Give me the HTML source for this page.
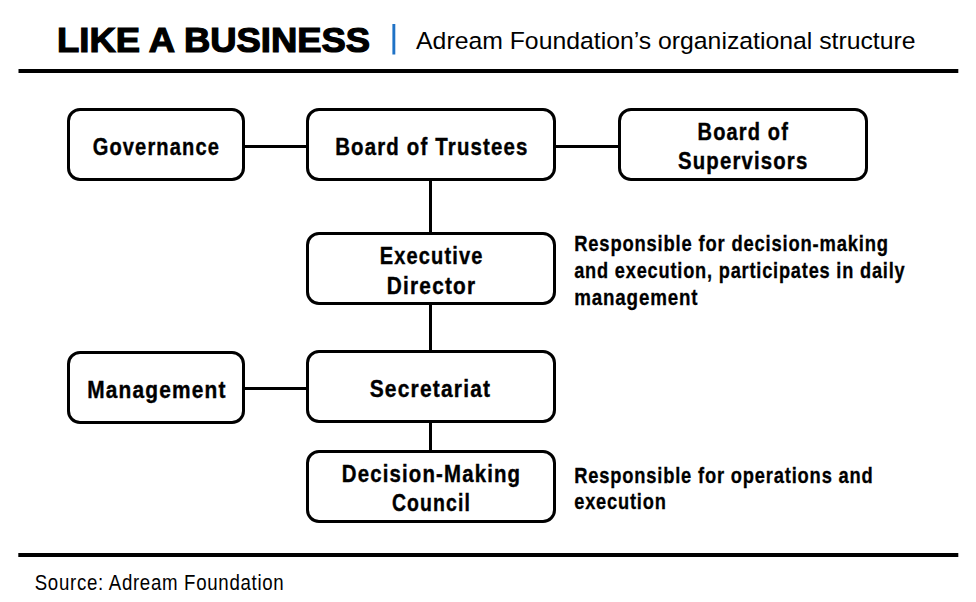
<!DOCTYPE html>
<html><head><meta charset="utf-8">
<style>
html,body{margin:0;padding:0;background:#fff;}
body{width:976px;height:602px;overflow:hidden;}
svg{display:block;}
text{font-family:"Liberation Sans", sans-serif;fill:#000;}
</style></head><body>
<svg width="976" height="602" viewBox="0 0 976 602">
<rect width="976" height="602" fill="#fff"/>
<rect x="18.5" y="69" width="939.8" height="4" fill="#000"/>
<rect x="18.3" y="553" width="940" height="4" fill="#000"/>
<rect x="392.4" y="24" width="2.9" height="30.5" fill="#1f72c6"/>
<rect x="244" y="145" width="63" height="3" fill="#000"/>
<rect x="555" y="145" width="64" height="3" fill="#000"/>
<rect x="429" y="180" width="3" height="53" fill="#000"/>
<rect x="429" y="304" width="3" height="47" fill="#000"/>
<rect x="429" y="422" width="3" height="29" fill="#000"/>
<rect x="244" y="387" width="63" height="3" fill="#000"/>
<rect x="68.5" y="109.5" width="175" height="70" rx="11.5" ry="11.5" fill="#fff" stroke="#000" stroke-width="3"/>
<rect x="307.5" y="109.5" width="247" height="70" rx="11.5" ry="11.5" fill="#fff" stroke="#000" stroke-width="3"/>
<rect x="619.5" y="109.5" width="247" height="70" rx="11.5" ry="11.5" fill="#fff" stroke="#000" stroke-width="3"/>
<rect x="307.5" y="233.5" width="247" height="70" rx="11.5" ry="11.5" fill="#fff" stroke="#000" stroke-width="3"/>
<rect x="68.5" y="352.5" width="175" height="70" rx="11.5" ry="11.5" fill="#fff" stroke="#000" stroke-width="3"/>
<rect x="307.5" y="351.5" width="247" height="70" rx="11.5" ry="11.5" fill="#fff" stroke="#000" stroke-width="3"/>
<rect x="307.5" y="451.5" width="247" height="70" rx="11.5" ry="11.5" fill="#fff" stroke="#000" stroke-width="3"/>
<text transform="translate(57.09 52.4) scale(1.0565 1)" font-size="34.5" font-weight="bold" stroke="#000" stroke-width="1.2" stroke-linejoin="miter">LIKE A BUSINESS</text>
<text transform="translate(416.10 49) scale(1.0202 1)" font-size="24.3" font-weight="normal">Adream Foundation’s organizational structure</text>
<text transform="translate(92.68 155) scale(0.8190 1)" font-size="24.5" font-weight="bold" stroke="#000" stroke-width="0.4" stroke-linejoin="miter" letter-spacing="1.4">Governance</text>
<text transform="translate(335.17 155) scale(0.8336 1)" font-size="24.5" font-weight="bold" stroke="#000" stroke-width="0.4" stroke-linejoin="miter" letter-spacing="1.4">Board of Trustees</text>
<text transform="translate(697.58 139.5) scale(0.8173 1)" font-size="24.5" font-weight="bold" stroke="#000" stroke-width="0.4" stroke-linejoin="miter" letter-spacing="1.4">Board of</text>
<text transform="translate(678.07 169.3) scale(0.8305 1)" font-size="24.5" font-weight="bold" stroke="#000" stroke-width="0.4" stroke-linejoin="miter" letter-spacing="1.4">Supervisors</text>
<text transform="translate(379.68 263.8) scale(0.8185 1)" font-size="24.5" font-weight="bold" stroke="#000" stroke-width="0.4" stroke-linejoin="miter" letter-spacing="1.4">Executive</text>
<text transform="translate(386.85 293.8) scale(0.8505 1)" font-size="24.5" font-weight="bold" stroke="#000" stroke-width="0.4" stroke-linejoin="miter" letter-spacing="1.4">Director</text>
<text transform="translate(87.15 398) scale(0.8522 1)" font-size="24.5" font-weight="bold" stroke="#000" stroke-width="0.4" stroke-linejoin="miter" letter-spacing="1.4">Management</text>
<text transform="translate(369.64 396.7) scale(0.8557 1)" font-size="24.5" font-weight="bold" stroke="#000" stroke-width="0.4" stroke-linejoin="miter" letter-spacing="1.4">Secretariat</text>
<text transform="translate(341.87 481.7) scale(0.8321 1)" font-size="24.5" font-weight="bold" stroke="#000" stroke-width="0.4" stroke-linejoin="miter" letter-spacing="1.4">Decision-Making</text>
<text transform="translate(391.91 511.4) scale(0.7948 1)" font-size="24.5" font-weight="bold" stroke="#000" stroke-width="0.4" stroke-linejoin="miter" letter-spacing="1.4">Council</text>
<text transform="translate(574.18 251) scale(0.8178 1)" font-size="22.5" font-weight="bold" stroke="#000" stroke-width="0.3" stroke-linejoin="miter" letter-spacing="1.0">Responsible for decision-making</text>
<text transform="translate(574.19 278) scale(0.8086 1)" font-size="22.5" font-weight="bold" stroke="#000" stroke-width="0.3" stroke-linejoin="miter" letter-spacing="1.0">and execution, participates in daily</text>
<text transform="translate(574.16 305) scale(0.8354 1)" font-size="22.5" font-weight="bold" stroke="#000" stroke-width="0.3" stroke-linejoin="miter" letter-spacing="1.0">management</text>
<text transform="translate(574.19 483) scale(0.8148 1)" font-size="22.5" font-weight="bold" stroke="#000" stroke-width="0.3" stroke-linejoin="miter" letter-spacing="1.0">Responsible for operations and</text>
<text transform="translate(574.19 509) scale(0.8108 1)" font-size="22.5" font-weight="bold" stroke="#000" stroke-width="0.3" stroke-linejoin="miter" letter-spacing="1.0">execution</text>
<text transform="translate(34.73 589.5) scale(0.8681 1)" font-size="21.5" font-weight="normal" letter-spacing="0.8">Source: Adream Foundation</text>
</svg>
</body></html>
